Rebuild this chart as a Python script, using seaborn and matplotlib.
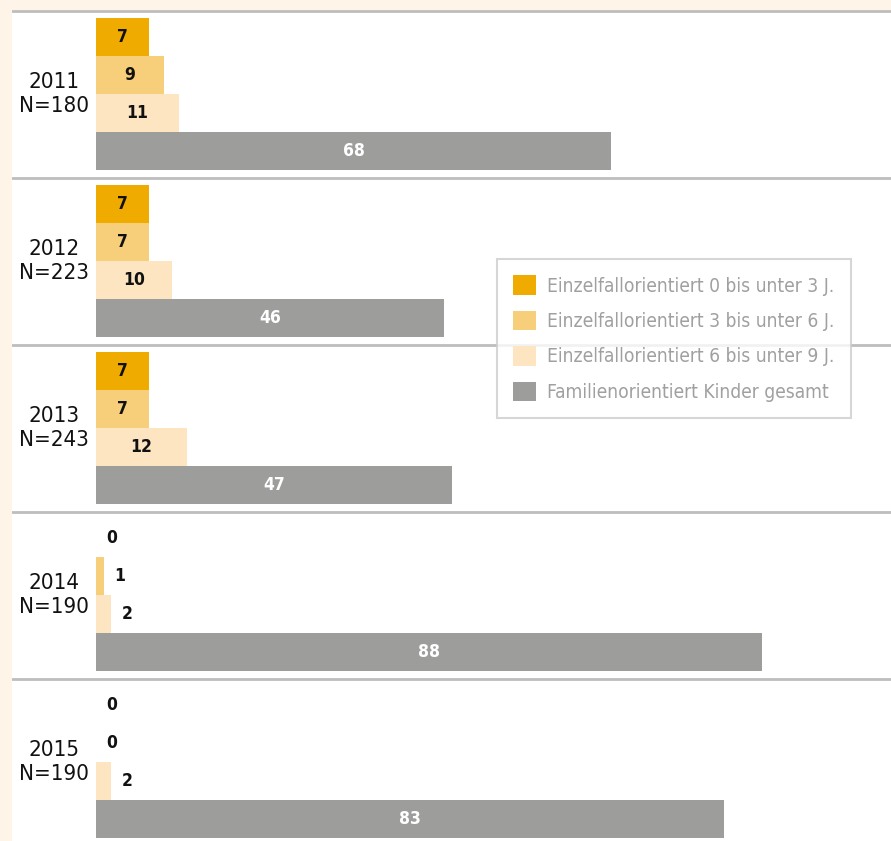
import matplotlib
matplotlib.use("Agg")
import matplotlib.pyplot as plt
import seaborn as sns
import pandas as pd

years = ["2011", "2012", "2013", "2014", "2015"]
n_cases = [180, 223, 243, 190, 190]
series = [
    "Einzelfallorientiert 0 bis unter 3 J.",
    "Einzelfallorientiert 3 bis unter 6 J.",
    "Einzelfallorientiert 6 bis unter 9 J.",
    "Familienorientiert Kinder gesamt",
]
age_0_3 = [7, 7, 7, 0, 0]
age_3_6 = [9, 7, 7, 1, 0]
age_6_9 = [11, 10, 12, 2, 2]
family = [68, 46, 47, 88, 83]
colors = ["#F0AB00", "#F7CE7A", "#FCE5C0", "#9D9E9C"]

rows = []
for name, vals in zip(series, [age_0_3, age_3_6, age_6_9, family]):
    for y, v in zip(years, vals):
        rows.append({"year": y, "series": name, "value": v})
df = pd.DataFrame(rows)

sns.set_style("white")
plt.rcParams["font.family"] = ["DejaVu Sans"]
plt.rcParams["font.stretch"] = "condensed"

fig = plt.figure(figsize=(8.91, 8.41), dpi=100)
fig.patch.set_facecolor("#FEF5E8")
ax = fig.add_axes([12 / 891, 0, 879 / 891, 831 / 841])
ax.set_facecolor("white")

sns.barplot(data=df, y="year", x="value", hue="series", hue_order=series,
            order=years, palette=colors, orient="h", width=0.91, gap=0,
            saturation=1, ax=ax, edgecolor="none", linewidth=0)

ax.set_xlim(-11.1, 105)
ax.set_ylim(4.473, -0.503)
ax.set_xlabel("")
ax.set_ylabel("")
ax.set_xticks([])
ax.set_yticks([])
for s in ax.spines.values():
    s.set_visible(False)

for i in range(len(years)):
    ax.axhline(i - 0.5, color="#BDBDBD", lw=2, zorder=0)
    ax.text(-5.5, i, f"{years[i]}\nN={n_cases[i]}", ha="center", va="center",
            fontsize=16, color="#111111", linespacing=1.22)

for k, cont in enumerate(ax.containers):
    for p in cont.patches:
        w = p.get_width()
        yc = p.get_y() + p.get_height() / 2
        label = f"{int(round(w))}"
        if w <= 2:
            ax.text(w + 2.1, yc, label, ha="center", va="center",
                    fontsize=12.5, color="#111111", fontweight="semibold")
        else:
            ax.text(w / 2, yc, label, ha="center", va="center", fontsize=12.5,
                    fontweight="semibold",
                    color="white" if k == 3 else "#111111")

sns.move_legend(ax, "upper left", bbox_to_anchor=(497 / 891, 1 - 259 / 841),
                bbox_transform=fig.transFigure, borderaxespad=0, title=None,
                frameon=True, fancybox=False, fontsize=13.8, handlelength=1.2,
                handleheight=1.2, handletextpad=0.58, labelspacing=0.79,
                borderpad=0.85)
leg = ax.get_legend()
leg.get_frame().set_edgecolor("#CCCCCC")
leg.get_frame().set_linewidth(1.5)
for t in leg.get_texts():
    t.set_color("#A0A0A0")

fig.savefig("out.png", dpi=100, facecolor=fig.get_facecolor())
